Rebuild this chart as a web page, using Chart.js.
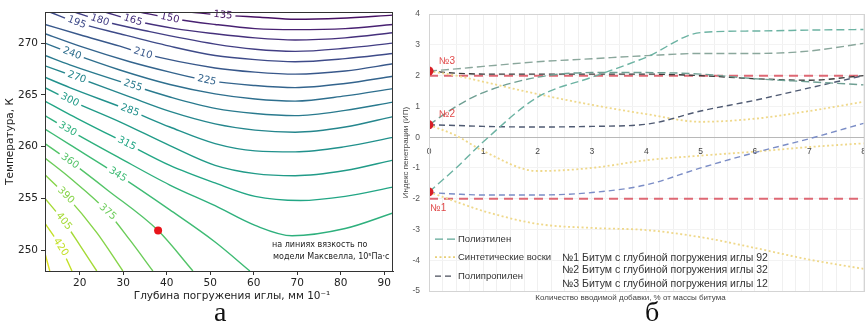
<!DOCTYPE html>
<html>
<head>
<meta charset="utf-8">
<title>Вязкость и индекс пенетрации</title>
<script src="https://cdn.jsdelivr.net/npm/chart.js@4.4.1/dist/chart.umd.min.js"></script>
<style>
    html, body { margin: 0; padding: 0; background: #fff; overflow: hidden; }
    body { width: 865px; height: 325px; position: relative; }
    #iso { position: absolute; left: 0; top: 0; }
    #pi { position: absolute; left: 395px; top: 0; }
    .letter { position: absolute; top: 298px; font: 28px "Liberation Serif", serif; line-height: 28px; color: #111; }
</style>
</head>
<body>
<canvas id="iso" width="400" height="310"></canvas>
<canvas id="pi" width="480" height="310"></canvas>
<div class="letter" style="left:214px">а</div>
<div class="letter" style="left:645px">б</div>
<script>
// ---------- а: изолинии вязкости, [глубина погружения, температура] ----------
var levels = [135, 150, 165, 180, 195, 210, 225, 240, 255, 270, 285, 300, 315, 330, 345, 360, 375, 390, 405, 420, 435];
var iso135 = [[45.3,273.0],[52.9,272.7],[61.4,272.5],[69.5,272.3],[79.9,272.4],[92,272.7]];
var iso150 = [[33.8,273.0],[40.7,272.4],[51.1,271.8],[60.3,271.4],[69.5,271.3],[81.0,271.4],[92,271.8]];
var iso165 = [[25.8,273.0],[32.2,272.2],[41.9,271.4],[51.1,270.9],[60.3,270.5],[69.5,270.3],[81.0,270.5],[92,271.0]];
var iso180 = [[18.8,273.0],[24.6,272.2],[36.1,271.1],[51.1,269.9],[60.3,269.4],[69.5,269.2],[81.0,269.5],[92,270.0]];
var iso195 = [[13.1,273.0],[19.3,272.0],[29.2,270.9],[40.7,269.7],[51.1,268.8],[60.3,268.4],[69.5,268.2],[81.0,268.5],[92,269.0]];
var iso210 = [[12,271.8],[20,270.8],[29.2,269.7],[34.5,269.0],[51.1,267.6],[60.3,267.2],[69.5,267.0],[81.0,267.3],[92,268.0]];
var iso225 = [[12,270.9],[20,269.7],[31.5,268.2],[40.7,267.2],[49.2,266.4],[60.3,265.9],[69.5,265.7],[81.0,266.1],[92,266.8]];
var iso240 = [[12,270.0],[18.2,269.0],[29.2,267.4],[40.7,266.0],[51.1,265.1],[60.3,264.6],[69.5,264.4],[81.0,264.9],[92,265.6]];
var iso255 = [[12,268.8],[17.7,267.9],[32.2,265.9],[40.7,264.8],[51.1,263.7],[60.3,263.2],[69.5,263.0],[81.0,263.5],[92,264.3]];
var iso270 = [[12,267.8],[19.3,266.7],[31.5,264.8],[40.7,263.4],[51.1,262.2],[60.3,261.6],[69.5,261.4],[81.0,261.9],[92,262.9]];
var iso285 = [[12,266.7],[17.7,265.7],[31.5,263.5],[40.7,261.9],[51.1,260.3],[60.3,259.6],[69.5,259.5],[81.0,260.0],[92,260.9]];
var iso300 = [[12,265.7],[17.7,264.5],[29.2,262.4],[40.7,260.1],[51.1,258.2],[60.3,257.4],[69.5,257.2],[81.0,257.7],[92,258.7]];
var iso315 = [[12,264.4],[17.7,263.1],[30.8,260.3],[40.7,258.2],[51.1,256.5],[60.3,255.2],[70.7,254.8],[81.0,255.2],[92,256.1]];
var iso330 = [[12,263.0],[17.2,261.7],[29.2,258.9],[40.7,256.3],[51.1,254.3],[60.3,252.4],[68.8,251.4],[81.0,252.1],[92,253.6]];
var iso345 = [[12,261.7],[17.7,260.2],[28.7,257.3],[40.7,253.9],[51.1,250.8],[59.1,248.0]];
var iso360 = [[12,260.3],[17.7,258.6],[26.4,255.8],[38.0,251.9],[46.0,248.0]];
var iso375 = [[12,258.9],[17.7,257.0],[26.4,253.7],[31.5,251.0],[36.8,248.0]];
var iso390 = [[12,257.3],[16.8,255.3],[23.9,251.7],[29.9,248.0]];
var iso405 = [[12,255.0],[16.3,252.8],[20,250.5],[23.9,248.0]];
var iso420 = [[12,252.6],[15.6,250.3],[18.2,248.0]];
var iso435 = [[12,249.7],[13.1,248.0]];
var isoLines = [iso135, iso150, iso165, iso180, iso195, iso210, iso225, iso240, iso255, iso270, iso285,
                iso300, iso315, iso330, iso345, iso360, iso375, iso390, iso405, iso420, iso435];
// где стоят подписи уровней (null - без подписи)
var isoLabelX = [52.9, 40.7, 32.2, 24.6, 19.3, 34.5, 49.2, 18.2, 32.2, 19.3, 31.5, 17.7, 30.8, 17.2, 28.7, 17.7, 26.4, 16.8, 16.3, 15.6, null];
var isoLabelT = [272.7, 272.4, 272.2, 272.2, 272.0, 269.0, 266.4, 269.0, 265.9, 266.7, 263.5, 264.5, 260.3, 261.7, 257.3, 258.6, 253.7, 255.3, 252.8, 250.3, null];
var redDot = [38, 251.9];
var depthTicks = [20, 30, 40, 50, 60, 70, 80, 90];
var tempTicks = [250, 255, 260, 265, 270];

// ---------- б: индекс пенетрации от количества добавки ----------
var addX = [0, 0.5, 1, 2, 3, 4, 5, 6, 7, 8];
var pe1 = [-1.78, -1.0, -0.15, 1.3, 1.95, 2.6, 3.4, 3.45, 3.48, 3.5];
var sw1 = [-1.78, -2.1, -2.4, -2.82, -2.95, -3.02, -3.25, -3.6, -3.98, -4.28];
var pp1 = [-1.8, -1.85, -1.88, -1.88, -1.8, -1.55, -1.0, -0.5, -0.05, 0.45];
var pe2 = [0.4, 1.0, 1.45, 1.95, 2.1, 2.1, 2.05, 1.9, 1.8, 1.7];
var sw2 = [0.4, 0.05, -0.45, -1.1, -1.0, -0.75, -0.6, -0.47, -0.32, -0.2];
var pp2 = [0.4, 0.38, 0.35, 0.33, 0.35, 0.42, 0.85, 1.2, 1.6, 2.0];
var pe3 = [2.15, 2.22, 2.3, 2.45, 2.55, 2.65, 2.72, 2.72, 2.8, 3.05];
var sw3 = [2.15, 2.0, 1.8, 1.4, 1.05, 0.75, 0.5, 0.6, 0.85, 1.15];
var pp3 = [2.15, 2.08, 2.05, 2.05, 2.05, 2.05, 2.0, 1.9, 1.85, 2.0];
var piLimits = [2, -2];
var startPI = [-1.78, 0.4, 2.15];
var pointNames = ['№1', '№2', '№3'];
var pointLabelX = [0.02, 0.18, 0.18];
var pointLabelY = [-2.3, 0.73, 2.48];
var additiveNames = ['Полиэтилен', 'Синтетические воски', 'Полипропилен'];
var bitumenNames = ['№1 Битум с глубиной погружения иглы 92',
                    '№2 Битум с глубиной погружения иглы 32',
                    '№3 Битум с глубиной погружения иглы 12'];
var addTicks = [0, 1, 2, 3, 4, 5, 6, 7, 8];
var piTicks = [-5, -4, -3, -2, -1, 0, 1, 2, 3, 4];

// viridis
var viridisStops = ['#440154', '#482475', '#414487', '#355f8d', '#2a788e', '#21918c',
                    '#22a884', '#44bf70', '#7ad151', '#bddf26', '#fde725'];
function hexRgb(h) { return [parseInt(h.substr(1, 2), 16), parseInt(h.substr(3, 2), 16), parseInt(h.substr(5, 2), 16)]; }
function viridis(t) {
    t = Math.max(0, Math.min(1, t));
    var f = t * (viridisStops.length - 1), i = Math.min(Math.floor(f), viridisStops.length - 2), k = f - i;
    var a = hexRgb(viridisStops[i]), b = hexRgb(viridisStops[i + 1]);
    return 'rgb(' + [0, 1, 2].map(function (j) { return Math.round(a[j] + (b[j] - a[j]) * k); }).join(',') + ')';
}
function pairs(xs, ys) { return xs.map(function (x, i) { return { x: x, y: ys[i] }; }); }

var isoColors = levels.map(function (lv) { return viridis((lv - 120) / 330); });

/************************************/
var isoLabelPlugin = {
    id: 'isoLabels',
    afterDatasetsDraw: function (chart) {
        var ctx = chart.ctx, xs = chart.scales.x, ys = chart.scales.y, area = chart.chartArea;
        ctx.save();
        ctx.font = '10px "DejaVu Sans"';
        ctx.textAlign = 'center';
        ctx.textBaseline = 'middle';
        levels.forEach(function (lv, i) {
            if (isoLabelX[i] === null) return;
            var px = xs.getPixelForValue(isoLabelX[i]), py = ys.getPixelForValue(isoLabelT[i]);
            var pts = isoLines[i].map(function (p) { return [xs.getPixelForValue(p[0]), ys.getPixelForValue(p[1])]; });
            var ang = 0;
            for (var j = 0; j < pts.length - 1; j++) {
                if (px >= pts[j][0] && px <= pts[j + 1][0]) {
                    ang = Math.atan2(pts[j + 1][1] - pts[j][1], pts[j + 1][0] - pts[j][0]);
                    break;
                }
            }
            var txt = String(lv), w = ctx.measureText(txt).width;
            ctx.save();
            ctx.translate(px, py);
            ctx.rotate(ang);
            ctx.fillStyle = '#fff';
            ctx.fillRect(-w / 2 - 3, -5, w + 6, 10);
            ctx.fillStyle = isoColors[i];
            ctx.fillText(txt, 0, 0);
            ctx.restore();
        });
        // рамка
        ctx.strokeStyle = '#333';
        ctx.lineWidth = 1;
        ctx.strokeRect(Math.round(area.left) + 0.5, Math.round(area.top) + 0.5,
                       Math.round(area.right - area.left) - 1, Math.round(area.bottom - area.top));
        // подпись внутри
        ctx.fillStyle = '#222';
        ctx.textAlign = 'left';
        ctx.font = '8px "DejaVu Sans"';
        ctx.fillText('на линиях вязкость по', area.right - 121, area.bottom - 26);
        ctx.fillText('модели Максвелла, 10⁵Па·с', area.right - 120, area.bottom - 14);
        // название оси x
        ctx.textAlign = 'center';
        ctx.font = '10.5px "DejaVu Sans"';
        ctx.fillStyle = '#222';
        ctx.fillText('Глубина погружения иглы, мм 10⁻¹', area.left + 187, area.bottom + 25);
        ctx.restore();
    }
};

var isoData = levels.map(function (lv, i) {
    return {
        label: String(lv),
        data: isoLines[i].map(function (p) { return { x: p[0], y: p[1] }; }),
        borderColor: isoColors[i],
        borderWidth: 1.4,
        pointRadius: 0,
        cubicInterpolationMode: 'monotone',
        fill: false
    };
});
isoData.unshift({
    label: 'точка',
    data: [{ x: redDot[0], y: redDot[1] }],
    showLine: false,
    pointRadius: 4,
    backgroundColor: '#e8141a',
    borderWidth: 0
});

var isoChart = new Chart(document.getElementById('iso'), {
    type: 'line',
    data: { datasets: isoData },
    options: {
        responsive: false,
        animation: false,
        layout: { padding: { left: 0, top: 12, right: 7, bottom: 0 } },
        plugins: { legend: { display: false }, tooltip: { enabled: false } },
        scales: {
            x: {
                type: 'linear', min: 12, max: 92,
                afterBuildTicks: function (s) { s.ticks = depthTicks.map(function (v) { return { value: v }; }); },
                afterFit: function (s) { s.height = 39; },
                grid: { drawOnChartArea: false, tickLength: 4, color: '#333' },
                border: { color: '#333' },
                ticks: { font: { family: 'DejaVu Sans', size: 10.5 }, color: '#222', padding: 2, maxRotation: 0 }
            },
            y: {
                type: 'linear', min: 248, max: 273,
                afterBuildTicks: function (s) { s.ticks = tempTicks.map(function (v) { return { value: v }; }); },
                afterFit: function (s) { s.width = 45; },
                grid: { drawOnChartArea: false, tickLength: 4, color: '#333' },
                border: { color: '#333' },
                ticks: { font: { family: 'DejaVu Sans', size: 10.5 }, color: '#222', padding: 3 },
                title: { display: true, text: 'Температура, К', font: { family: 'DejaVu Sans', size: 10.5 }, color: '#222', padding: { top: 4, bottom: 0 } }
            }
        }
    },
    plugins: [isoLabelPlugin]
});

/************************************/
var peStyle = { borderDash: [8, 4], borderWidth: 1.4 };
var swStyle = { borderDash: [2, 2.5], borderWidth: 1.8, color: '#efd88a' };
var ppStyle = { borderDash: [6, 4], borderWidth: 1.4 };

function addLine(name, ys, color, st) {
    return {
        label: name, data: pairs(addX, ys), borderColor: color,
        borderDash: st.borderDash, borderWidth: st.borderWidth,
        pointRadius: 0, cubicInterpolationMode: 'monotone', fill: false
    };
}

var piNotesPlugin = {
    id: 'piNotes',
    afterDatasetsDraw: function (chart) {
        var ctx = chart.ctx, xs = chart.scales.x, ys = chart.scales.y, area = chart.chartArea;
        ctx.save();
        // рамка области построения
        ctx.strokeStyle = '#d4d4d4';
        ctx.lineWidth = 1;
        ctx.strokeRect(Math.round(area.left) + 0.5, Math.round(area.top) + 0.5,
                       Math.round(area.right - area.left), Math.round(area.bottom - area.top));
        // №1..№3 у точек
        ctx.fillStyle = '#e04848';
        ctx.font = '10px "Liberation Sans"';
        ctx.textBaseline = 'middle';
        ctx.textAlign = 'left';
        pointNames.forEach(function (n, i) {
            ctx.fillText(n, xs.getPixelForValue(pointLabelX[i]), ys.getPixelForValue(pointLabelY[i]));
        });
        // условные обозначения
        var legendColors = ['#5fa897', '#e8cf78', '#4a4f5c'];
        var legendStyles = [peStyle, swStyle, ppStyle];
        var rowsY = [225, 243, 262];
        ctx.font = '9.5px "Liberation Sans"';
        ctx.fillStyle = '#333';
        additiveNames.forEach(function (n, i) {
            var y = area.top + rowsY[i];
            ctx.save();
            ctx.strokeStyle = legendColors[i];
            ctx.lineWidth = legendStyles[i].borderWidth;
            ctx.setLineDash(legendStyles[i].borderDash);
            ctx.beginPath();
            ctx.moveTo(area.left + 6, y);
            ctx.lineTo(area.left + 26, y);
            ctx.stroke();
            ctx.restore();
            ctx.fillText(n, area.left + 29, y);
        });
        var notesY = [244, 256, 270];
        ctx.font = '10.5px "Liberation Sans"';
        bitumenNames.forEach(function (n, i) {
            ctx.fillText(n, area.left + 133, area.top + notesY[i]);
        });
        ctx.restore();
    }
};

var piData = [
    {
        label: 'битумы', data: pairs([0, 0, 0], startPI), showLine: false,
        pointRadius: 4.5, backgroundColor: '#d81e24', borderWidth: 0
    },
    addLine('№1 полиэтилен', pe1, '#6cb3a3', peStyle),
    addLine('№1 воски', sw1, swStyle.color, swStyle),
    addLine('№1 полипропилен', pp1, '#7b8dc6', ppStyle),
    addLine('№2 полиэтилен', pe2, '#6f9f93', peStyle),
    addLine('№2 воски', sw2, swStyle.color, swStyle),
    addLine('№2 полипропилен', pp2, '#4f5a72', ppStyle),
    addLine('№3 полиэтилен', pe3, '#8aa79c', peStyle),
    addLine('№3 воски', sw3, swStyle.color, swStyle),
    addLine('№3 полипропилен', pp3, '#3a3a3a', ppStyle)
];
piLimits.forEach(function (v) {
    piData.push({
        label: 'ИП ' + v, data: pairs([0, 8], [v, v]), borderColor: '#de6874',
        borderDash: [9, 6], borderWidth: 2, pointRadius: 0, fill: false
    });
});

var tickFont = { family: 'Liberation Sans', size: 8.5 };

var piChart = new Chart(document.getElementById('pi'), {
    type: 'line',
    data: { datasets: piData },
    options: {
        responsive: false,
        animation: false,
        layout: { padding: { left: 0, top: 13, right: 9, bottom: 0 } },
        plugins: {
            legend: { display: false },
            tooltip: { enabled: false },
            title: {
                display: true, position: 'bottom',
                text: 'Количество вводимой добавки, % от массы битума',
                font: { family: 'Liberation Sans', size: 8, weight: 'normal' }, color: '#444',
                padding: { top: 2, bottom: 7.4 }
            }
        },
        scales: {
            x: {
                type: 'linear', min: 0, max: 8, position: { y: 0 },
                afterBuildTicks: function (s) { s.ticks = addTicks.map(function (v) { return { value: v }; }); },
                afterFit: function (s) { s.height = 0; },
                grid: { display: true, drawOnChartArea: false, drawTicks: false },
                border: { color: '#b8b8b8' },
                ticks: { font: tickFont, color: '#444', padding: 9, maxRotation: 0 }
            },
            xm: {
                type: 'linear', axis: 'x', min: 0, max: 8, position: 'bottom',
                afterFit: function (s) { s.height = 0; },
                ticks: { display: false, stepSize: 0.25 },
                grid: { color: '#f0f0f0', drawTicks: false },
                border: { display: false }
            },
            y: {
                type: 'linear', min: -5, max: 4,
                afterBuildTicks: function (s) { s.ticks = piTicks.map(function (v) { return { value: v }; }); },
                afterFit: function (s) { s.width = 34; },
                grid: { color: '#f3f3f3', drawTicks: false },
                border: { color: '#b8b8b8' },
                ticks: { font: tickFont, color: '#555', padding: 9 },
                title: { display: true, text: 'Индекс пенетрации (ИП)', font: { family: 'Liberation Sans', size: 8 }, color: '#444', padding: { top: 6, bottom: 0 } }
            }
        }
    },
    plugins: [piNotesPlugin]
});
</script>
</body>
</html>
